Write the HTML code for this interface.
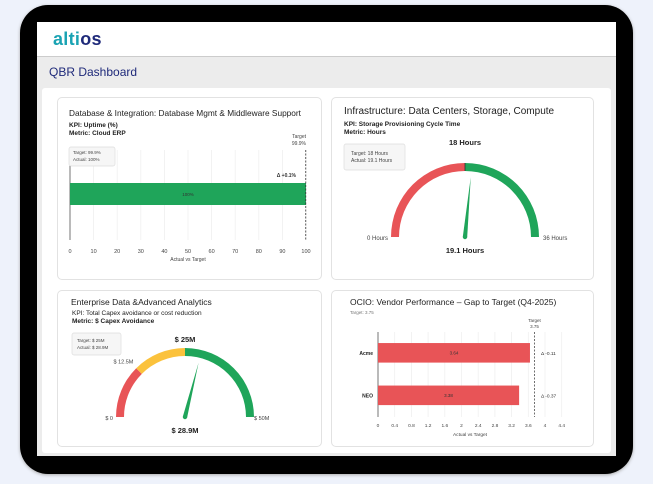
<!DOCTYPE html>
<html><head><meta charset="utf-8"><style>
body{margin:0;width:653px;height:484px;background:#eef2fb;font-family:"Liberation Sans",sans-serif;overflow:hidden;position:relative}
.abs{position:absolute}
.card{position:absolute;background:#fff;border:1px solid #e2e2e2;border-radius:5px}
.t{position:absolute;white-space:nowrap;color:#222}
</style></head><body>
<div class="abs" style="left:20px;top:5px;width:613px;height:469px;background:#000;border-radius:28px;box-shadow:0 1px 3px #aaa"></div>
<div class="abs" style="left:37px;top:22px;width:579px;height:434px;background:#ececec;overflow:hidden">
  <div class="abs" style="left:0;top:0;width:579px;height:34px;background:#fff;border-bottom:1px solid #ccc"></div>
  <div class="t" style="left:16px;top:7px;font-size:18px;font-weight:bold;color:#1aa3b3;letter-spacing:0.3px">alti<span style="color:#1f2a7a">os</span></div>
  <div class="t" style="left:12px;top:43px;font-size:12px;color:#1f2a7a">QBR Dashboard</div>
  <div class="abs" style="left:5px;top:66px;width:569px;height:365px;background:#fff;border-radius:3px"></div>
</div>

<!-- Card 1 -->
<div class="card" style="left:57px;top:97px;width:263px;height:181px"></div>
<div class="t" style="left:69px;top:108px;font-size:8.3px">Database &amp; Integration: Database Mgmt &amp; Middleware Support</div>
<div class="t" style="left:69px;top:122px;font-size:6.5px;font-weight:bold">KPI: Uptime (%)</div>
<div class="t" style="left:69px;top:130px;font-size:6.5px;font-weight:bold">Metric: Cloud ERP</div>

<!-- Card 2 -->
<div class="card" style="left:331px;top:97px;width:261px;height:181px"></div>
<div class="t" style="left:344px;top:106px;font-size:10px">Infrastructure: Data Centers, Storage, Compute</div>
<div class="t" style="left:344px;top:121px;font-size:6.5px;font-weight:bold">KPI: Storage Provisioning Cycle Time</div>
<div class="t" style="left:344px;top:129px;font-size:6.5px;font-weight:bold">Metric: Hours</div>

<!-- Card 3 -->
<div class="card" style="left:57px;top:290px;width:263px;height:155px"></div>
<div class="t" style="left:71px;top:297px;font-size:8.5px">Enterprise Data &amp;Advanced Analytics</div>
<div class="t" style="left:72px;top:310px;font-size:6.5px">KPI: Total Capex avoidance or cost reduction</div>
<div class="t" style="left:72px;top:318px;font-size:6.5px;font-weight:bold">Metric: $ Capex Avoidance</div>

<!-- Card 4 -->
<div class="card" style="left:331px;top:290px;width:261px;height:155px"></div>
<div class="t" style="left:350px;top:297px;font-size:8.5px">OCIO: Vendor Performance – Gap to Target (Q4-2025)</div>
<div class="t" style="left:350px;top:310px;font-size:4.5px;color:#777">Target: 3.75</div>

<svg class="abs" style="left:0;top:0;pointer-events:none" width="653" height="484" id="c1"></svg>

<script>
// ---- Card 1 data
const c1Categories=["Cloud ERP"];
const c1Actual=[100];
const c1Target=[99.9];
const c1Ticks=[0,10,20,30,40,50,60,70,80,90,100];
// ---- Card 2 data
const c2Min=0, c2Max=36;
const c2Target=[18];
const c2Actual=[19.1];
// ---- Card 3 data
const c3Min=0, c3Max=50;
const c3Bands=[12.5,25];
const c3Target=[25];
const c3Actual=[28.9];
// ---- Card 4 data
const c4Categories=["Acme","NEO"];
const c4Values=[3.64,3.38];
const c4Target=[3.75];
const c4Ticks=[0,0.4,0.8,1.2,1.6,2,2.4,2.8,3.2,3.6,4,4.4];

const svg=document.getElementById('c1');
const NS='http://www.w3.org/2000/svg';
function mk(tag,attrs,parent){const e=document.createElementNS(NS,tag);for(const k in attrs)e.setAttribute(k,attrs[k]);(parent||svg).appendChild(e);return e;}
function txt(x,y,s,size,anchor,weight,fill){const e=mk('text',{x:x,y:y,'font-size':size,'text-anchor':anchor||'start','font-weight':weight||'normal',fill:fill||'#444','font-family':'Liberation Sans, sans-serif'});e.textContent=s;return e;}

// ===== Card 1 bar chart
{
 const x=v=>70+(v-0)/(100-0)*236;
 const top=150,bot=240;
 c1Ticks.forEach(t=>{const g=mk('line',{x1:x(t),x2:x(t),y1:top,y2:bot,stroke:'#eee','stroke-width':0.7});
  
  const l=txt(x(t),253,String(t),5.5,'middle');
  });
 const ax=mk('line',{x1:70,x2:70,y1:top,y2:bot,stroke:'#555','stroke-width':0.8});
 
 c1Actual.forEach((v,i)=>{const b=mk('rect',{x:x(0),y:183,width:x(v)-x(0),height:22,fill:'#1fa55a'});
  
  const l=txt((x(0)+x(v))/2,196,v+'%',4.5,'middle','normal','#333');
  
  const d=txt(x(v)-10,177,'Δ +'+(v-c1Target[i]).toFixed(1)+'%',5,'end','bold','#333');
  });
 const tl=mk('line',{x1:x(c1Target[0]),x2:x(c1Target[0]),y1:top,y2:bot,stroke:'#333','stroke-width':0.8,'stroke-dasharray':'2,1.5'});
 
 const t1=txt(306,138,'Target',5,'end');
 const t2=txt(306,145,c1Target[0]+'%',5,'end');
 const tb=mk('rect',{x:69,y:147,width:46,height:19,fill:'#f6f6f6',stroke:'#ddd','stroke-width':0.7,rx:2});
 
 txt(73,154,'Target: '+c1Target[0]+'%',4.5);
 txt(73,161,'Actual: '+c1Actual[0]+'%',4.5);
 const xt=txt(188,261,'Actual vs Target',5,'middle');
}

// ===== Gauge helper
function arc(cx,cy,r,w,v0,v1,mn,mx,color,name){
 const a=v=>Math.PI*(1-(v-mn)/(mx-mn));
 const p=(ang,rr)=>[cx+rr*Math.cos(ang),cy-rr*Math.sin(ang)];
 const r1=r,r2=r-w;const A0=a(v0),A1=a(v1);
 const [x1,y1]=p(A0,r1),[x2,y2]=p(A1,r1),[x3,y3]=p(A1,r2),[x4,y4]=p(A0,r2);
 const e=mk('path',{d:`M${x1},${y1} A${r1},${r1} 0 0 1 ${x2},${y2} L${x3},${y3} A${r2},${r2} 0 0 0 ${x4},${y4} Z`,fill:color});
 
}
function needle(cx,cy,len,v,mn,mx,name){
 const ang=Math.PI*(1-(v-mn)/(mx-mn));
 const tx=cx+len*Math.cos(ang),ty=cy-len*Math.sin(ang);
 const px=Math.sin(ang)*2.2,py=Math.cos(ang)*2.2;
 const e=mk('path',{d:`M${cx-px},${cy-py} L${tx},${ty} L${cx+px},${cy+py} Z`,fill:'#1fa55a'});
 
 const c=mk('circle',{cx:cx,cy:cy,r:2.2,fill:'#1fa55a'});
 
}

// ===== Card 2 gauge
{
 const cx=465,cy=237,R=74,W=8;
 arc(cx,cy,R,W,c2Min,c2Target[0],c2Min,c2Max,'#e85457','c2-gauge-red');
 arc(cx,cy,R,W,c2Target[0],c2Max,c2Min,c2Max,'#1fa55a','c2-gauge-green');
 const ml=mk('line',{x1:cx,x2:cx,y1:cy-R,y2:cy-R+W,stroke:'#333','stroke-width':0.8});
 
 needle(cx,cy,60,c2Actual[0],c2Min,c2Max,'c2-needle');
 txt(cx,145,c2Target[0]+' Hours',7.5,'middle','bold','#222');
 txt(388,240,c2Min+' Hours',6,'end');
 txt(543,240,c2Max+' Hours',6,'start');
 txt(cx,253,c2Actual[0]+' Hours',7.5,'middle','bold','#222');
 const tb=mk('rect',{x:344,y:144,width:61,height:26,fill:'#f6f6f6',stroke:'#ddd','stroke-width':0.7,rx:2});
 
 txt(351,155,'Target: '+c2Target[0]+' Hours',5,'start');
 txt(351,162,'Actual: '+c2Actual[0]+' Hours',5,'start');
}

// ===== Card 3 gauge
{
 const cx=185,cy=417,R=69,W=8;
 arc(cx,cy,R,W,c3Min,c3Bands[0],c3Min,c3Max,'#e85457','c3-gauge-red');
 arc(cx,cy,R,W,c3Bands[0],c3Bands[1],c3Min,c3Max,'#fbc23c','c3-gauge-yellow');
 arc(cx,cy,R,W,c3Bands[1],c3Max,c3Min,c3Max,'#1fa55a','c3-gauge-green');
 needle(cx,cy,56,c3Actual[0],c3Min,c3Max,'c3-needle');
 txt(cx,342,'$ '+c3Target[0]+'M',7.5,'middle','bold','#222');
 const a=Math.PI*(1-c3Bands[0]/c3Max);
 txt(cx+(R+4)*Math.cos(a),cy-(R+4)*Math.sin(a)-2,'$ '+c3Bands[0]+'M',5.5,'end');
 txt(113,420,'$ '+c3Min,5.5,'end');
 txt(254,420,'$ '+c3Max+'M',5.5,'start');
 txt(cx,433,'$ '+c3Actual[0]+'M',7.5,'middle','bold','#222');
 const tb=mk('rect',{x:72,y:333,width:49,height:22,fill:'#f6f6f6',stroke:'#ddd','stroke-width':0.7,rx:2});
 
 txt(77,342,'Target: $ '+c3Target[0]+'M',4.5,'start');
 txt(77,349,'Actual: $ '+c3Actual[0]+'M',4.5,'start');
}

// ===== Card 4 bar chart
{
 const x=v=>378+v*41.75;
 const top=332,bot=417;
 c4Ticks.forEach(t=>{const g=mk('line',{x1:x(t),x2:x(t),y1:top,y2:bot,stroke:'#eee','stroke-width':0.7});
  
  const l=txt(x(t),427,String(t),4.8,'middle');
  });
 const ax=mk('line',{x1:378,x2:378,y1:top,y2:bot,stroke:'#555','stroke-width':0.8});
 
 const band=(bot-top)/c4Categories.length;
 c4Categories.forEach((c,i)=>{const y0=top+band*i+band*0.26;const h=band*0.46;
  const b=mk('rect',{x:x(0),y:y0,width:x(c4Values[i])-x(0),height:h,fill:'#e85457'});
  
  const l=txt((x(0)+x(c4Values[i]))/2,y0+h/2+1.7,c4Values[i].toFixed(2),4.5,'middle','normal','#333');
  
  const cl=txt(373,y0+h/2+2,c,5,'end','bold','#222');
  
  const d=txt(541,y0+h/2+2,'Δ '+(c4Values[i]-c4Target[0]).toFixed(2),4.8,'start','normal','#333');
  });
 const tl=mk('line',{x1:x(c4Target[0]),x2:x(c4Target[0]),y1:top,y2:bot,stroke:'#333','stroke-width':0.7,'stroke-dasharray':'2,1.5'});
 
 txt(x(c4Target[0]),322,'Target',4.5,'middle');
 txt(x(c4Target[0]),328,String(c4Target[0]),4.5,'middle');
 txt(470,436,'Actual vs Target',4.8,'middle');
}
</script>
</body></html>
